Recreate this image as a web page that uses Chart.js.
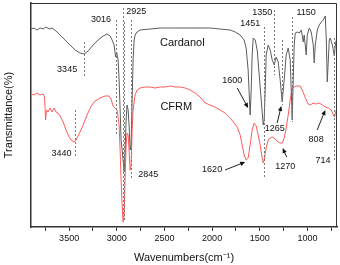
<!DOCTYPE html>
<html>
<head>
<meta charset="utf-8">
<script src="https://cdn.jsdelivr.net/npm/chart.js@4/dist/chart.umd.min.js"></script>
<style>
  html, body { margin: 0; padding: 0; background: #fff; }
  #wrap { width: 340px; height: 265px; }
</style>
</head>
<body>
<div id="wrap"><canvas id="ftir" width="340" height="265"></canvas></div>
<script>
// wavenumber (cm-1) / relative transmittance
const cardanolWn = [3899,3868,3836,3805,3773,3742,3710,3679,3637,3595,3542,3490,3437,3385,3343,3300,3248,3196,3144,3102,3070,3049,3028,3013,3002,2986,2976,2965,2955,2944,2934,2923,2913,2902,2892,2881,2871,2860,2850,2839,2829,2818,2808,2787,2755,2650,2545,2440,2336,2231,2126,2021,1916,1811,1758,1706,1664,1643,1622,1601,1590,1580,1569,1548,1527,1506,1485,1464,1454,1443,1433,1412,1391,1370,1349,1328,1307,1286,1265,1244,1223,1202,1181,1170,1160,1149,1139,1128,1107,1086,1065,1044,1034,1013,1002,981,960,939,929,918,897,876,855,834,813,802,792,781,771,760,739,729,718,708,697,687];
const cardanolT  = [198,199,197,199,198,200,198,199,196,192,187,182,177,174,173,176,182,187,191,193,191,187,182,170,175,167,147,117,87,77,67,55,77,107,122,117,102,77,82,127,167,187,192,195,197,198,199,199,199,199,199,199,198,197,195,192,187,179,157,112,137,172,189,187,177,152,127,102,107,137,172,182,177,167,162,170,165,147,125,147,172,179,167,137,107,147,182,194,195,194,197,185,192,172,192,199,195,182,164,182,197,202,205,207,211,187,145,167,187,189,182,177,171,182,187,185];

const cfrmWn = [3899,3868,3836,3805,3773,3758,3747,3737,3721,3700,3679,3658,3637,3616,3595,3563,3532,3500,3469,3448,3427,3396,3353,3312,3269,3228,3175,3123,3081,3060,3039,3018,2997,2976,2965,2955,2944,2934,2923,2913,2902,2892,2881,2871,2860,2850,2839,2829,2808,2787,2755,2703,2650,2598,2545,2493,2440,2388,2336,2283,2231,2178,2126,2073,2021,1969,1916,1864,1811,1769,1737,1706,1685,1664,1643,1622,1601,1580,1559,1538,1517,1496,1475,1464,1454,1433,1412,1391,1370,1338,1307,1286,1265,1244,1223,1202,1181,1160,1139,1118,1097,1076,1055,1034,1013,992,971,939,908,876,844,813,781,750,729,718,708,697,687];
const cfrmT  = [133,132,134,132,133,130,107,117,115,119,115,119,115,114,111,105,97,90,86,85,87,93,102,112,121,126,129,131,131,128,121,119,117,102,77,47,22,5,12,47,82,94,92,77,57,62,97,117,132,137,139,140,140,139,140,140,141,140,140,139,137,134,130,124,122,120,117,114,109,104,100,92,82,72,67,69,82,97,104,101,92,82,69,64,67,79,87,89,90,88,85,84,84,89,99,112,127,139,140,141,141,141,137,132,127,123,122,124,123,124,122,120,119,117,112,110,113,117,115];

const xTicks = [750,1000,1250,1500,1750,2000,2250,2500,2750,3000,3250,3500,3750];

// dashed peak markers: wavenumber, top, bottom
const peakWn  = [3345,3440,3010,2940,2922,2853,1455,1349,1265,1160,722];
const peakTop = [185,117,207,219,205,207,200,217,187,210,189];
const peakBot = [150,69,92,10,5,49,50,152,122,105,65];

// annotation texts: label, wavenumber, level
const noteText = ['3345','3016','2925','3440','2845','1451','1350','1150','1600','1265','808','714','1620','1270'];
const noteWn   = [3521,3165,2797,3579,2671,1601,1475,1014,1790,1344,909,836,2000,1233];
const noteLvl  = [157,207,215,73,52,203,214,214,146,98,87,66,57,60];

// arrows: from (wn, level) to (wn, level)
const arrowFromWn = [1737,1317,898,1864,1218];
const arrowFromT  = [139,104,97,57,70];
const arrowToWn   = [1622,1275,813,1653,1260];
const arrowToT    = [119,121,117,65,79];

const seriesNames = ['Cardanol','CFRM'];
const seriesWn    = [2313,2376];
const seriesLvl   = [184,120];

const toPoints = (xs, ys) => xs.map((x, i) => ({ x: x, y: ys[i] }));

const annotate = {
  id: 'annotate',
  afterDatasetsDraw(chart) {
    const ctx = chart.ctx, xs = chart.scales.x, ys = chart.scales.y, a = chart.chartArea;
    ctx.save();
    // dashed peak lines
    ctx.strokeStyle = '#7a7a7a';
    ctx.lineWidth = 1;
    ctx.setLineDash([2, 2]);
    peakWn.forEach((w, i) => {
      const px = Math.round(xs.getPixelForValue(w)) + 0.5;
      ctx.beginPath();
      ctx.moveTo(px, ys.getPixelForValue(peakTop[i]));
      ctx.lineTo(px, ys.getPixelForValue(peakBot[i]));
      ctx.stroke();
    });
    ctx.setLineDash([]);

    // arrows
    ctx.strokeStyle = '#222';
    ctx.fillStyle = '#111';
    arrowFromWn.forEach((w, i) => {
      const x1 = xs.getPixelForValue(w), y1 = ys.getPixelForValue(arrowFromT[i]);
      const x2 = xs.getPixelForValue(arrowToWn[i]), y2 = ys.getPixelForValue(arrowToT[i]);
      const ang = Math.atan2(y2 - y1, x2 - x1);
      ctx.beginPath();
      ctx.moveTo(x1, y1);
      ctx.lineTo(x2 - 3 * Math.cos(ang), y2 - 3 * Math.sin(ang));
      ctx.stroke();
      ctx.beginPath();
      ctx.moveTo(x2, y2);
      ctx.lineTo(x2 - 5 * Math.cos(ang) + 2.2 * Math.sin(ang), y2 - 5 * Math.sin(ang) - 2.2 * Math.cos(ang));
      ctx.lineTo(x2 - 5 * Math.cos(ang) - 2.2 * Math.sin(ang), y2 - 5 * Math.sin(ang) + 2.2 * Math.cos(ang));
      ctx.closePath();
      ctx.fill();
    });

    // texts
    ctx.fillStyle = '#111';
    ctx.textAlign = 'center';
    ctx.textBaseline = 'middle';
    ctx.font = '9px "Liberation Sans", Arial, sans-serif';
    noteText.forEach((t, i) => {
      ctx.fillText(t, xs.getPixelForValue(noteWn[i]), ys.getPixelForValue(noteLvl[i]));
    });
    ctx.font = '11px "Liberation Sans", Arial, sans-serif';
    seriesNames.forEach((t, i) => {
      ctx.fillText(t, xs.getPixelForValue(seriesWn[i]), ys.getPixelForValue(seriesLvl[i]));
    });

    // top and right frame
    ctx.strokeStyle = '#333';
    ctx.lineWidth = 1;
    ctx.beginPath();
    ctx.moveTo(a.left, a.top + 0.5);
    ctx.lineTo(a.right - 0.5, a.top + 0.5);
    ctx.lineTo(a.right - 0.5, a.bottom);
    ctx.stroke();
    ctx.restore();
  }
};

new Chart(document.getElementById('ftir'), {
  type: 'line',
  data: {
    datasets: [
      {
        label: 'Cardanol',
        data: toPoints(cardanolWn, cardanolT),
        borderColor: '#5c5c5c',
        borderWidth: 1,
        pointRadius: 0,
        tension: 0
      },
      {
        label: 'CFRM',
        data: toPoints(cfrmWn, cfrmT),
        borderColor: '#ff5a5a',
        borderWidth: 1,
        pointRadius: 0,
        tension: 0
      }
    ]
  },
  options: {
    responsive: false,
    animation: false,
    events: [],
    layout: { padding: { top: 3, right: 3, left: 0, bottom: 0 } },
    plugins: {
      legend: { display: false },
      tooltip: { enabled: false }
    },
    scales: {
      x: {
        type: 'linear',
        reverse: true,
        min: 690,
        max: 3900,
        afterBuildTicks: (s) => { s.ticks = xTicks.map(v => ({ value: v })); },
        afterFit: (s) => { s.height = 38; },
        border: { display: true, color: '#333', width: 1.5 },
        grid: { drawOnChartArea: false, drawTicks: true, tickLength: 4, color: '#333' },
        ticks: {
          padding: 2,
          maxRotation: 0,
          autoSkip: false,
          color: '#111',
          font: { family: '"Liberation Sans", Arial, sans-serif', size: 9 },
          callback: (v) => (v % 500 === 0 ? String(v) : '')
        },
        title: {
          display: true,
          text: 'Wavenumbers(cm⁻¹)',
          color: '#111',
          padding: { top: 4, bottom: 0 },
          font: { family: '"Liberation Sans", Arial, sans-serif', size: 11 }
        }
      },
      y: {
        min: 0,
        max: 224,
        afterFit: (s) => { s.width = 31; },
        border: { display: true, color: '#333', width: 1.5 },
        grid: { display: false },
        ticks: { display: false },
        title: {
          display: true,
          text: 'Transmittance(%)',
          color: '#111',
          padding: { top: 2, bottom: 0 },
          font: { family: '"Liberation Sans", Arial, sans-serif', size: 11 }
        }
      }
    }
  },
  plugins: [annotate]
});
</script>
</body>
</html>
